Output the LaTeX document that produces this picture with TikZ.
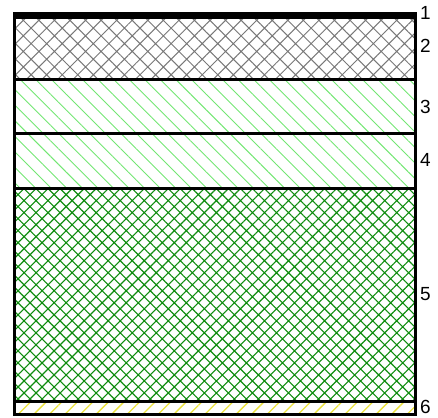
\documentclass[tikz,border=0pt]{standalone}
\usepackage{fontspec}
\setmainfont{Liberation Sans}
\usetikzlibrary{patterns.meta}
\definecolor{HatchGray}{RGB}{120,120,120}
\definecolor{LightGreen}{RGB}{115,230,115}
\definecolor{MidGreen}{RGB}{15,140,15}
\definecolor{SandYellow}{RGB}{235,225,60}
\tikzset{
  layerline/.style={line width=3pt},
  layerlbl/.style={anchor=west, inner sep=0pt, text depth=0pt,
                   font=\fontsize{19}{19}\selectfont},
  graycross/.style={pattern={Hatch[angle=45,distance=11pt,line width=1pt]},
                    pattern color=HatchGray},
  greenlines/.style={pattern={Lines[angle=-45,distance=11pt,line width=0.9pt]},
                     pattern color=LightGreen},
  greencross/.style={pattern={Hatch[angle=45,distance=8.5pt,line width=1.1pt]},
                     pattern color=MidGreen},
  sandlines/.style={pattern={Lines[angle=45,distance=11pt,line width=1.3pt]},
                    pattern color=SandYellow}
}

\begin{document}
\begin{tikzpicture}[x=1pt,y=-1pt]
  \useasboundingbox (0,0) rectangle (438,417);
  % layer fills
  \fill[graycross]   (14,19)   rectangle (416,80);
  \fill[greenlines]  (14,80)   rectangle (416,133.5);
  \fill[greenlines]  (14,133.5) rectangle (416,188);
  \fill[greencross]  (14,188)  rectangle (416,401);
  \fill[sandlines]   (14,401)  rectangle (416,414.5);
  % frame and separators
  \fill (13,12.5) rectangle (417,19);
  \draw[layerline] (14.5,15) rectangle (415.5,414.5);
  \foreach \y in {80, 133.5, 188, 401}
    \draw[layerline] (14.5,\y) -- (415.5,\y);
  % layer numbers
  \foreach \n/\y in {1/13, 2/46, 3/107, 4/160, 5/294, 6/407}
    \node[layerlbl] (lbl\n) at (420,\y) {\n};
\end{tikzpicture}
\end{document}
